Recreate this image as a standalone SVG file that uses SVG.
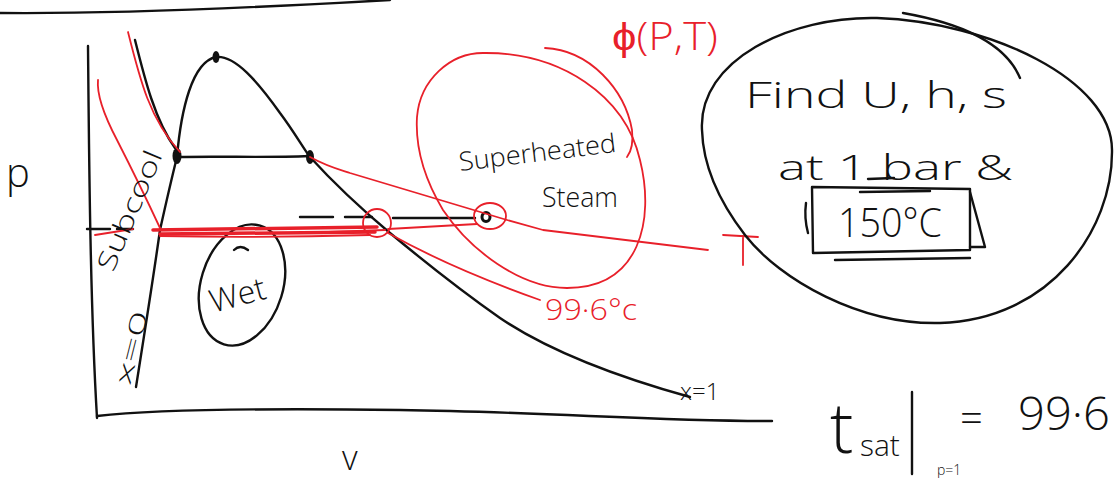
<svg xmlns="http://www.w3.org/2000/svg" width="1115" height="486" viewBox="0 0 1115 486">
<style>
.k{fill:none;stroke:#111;stroke-width:2.4;stroke-linecap:round;stroke-linejoin:round}
.r{fill:none;stroke:#e8202a;stroke-width:1.8;stroke-linecap:round;stroke-linejoin:round}
.rt{fill:none;stroke:#e8202a;stroke-width:3.5;stroke-linecap:round}
.tk{font-family:"Open Sans","Liberation Sans",Arial,sans-serif;font-weight:300;fill:#111}
.tr{font-family:"Open Sans","Liberation Sans",Arial,sans-serif;font-weight:300;fill:#e8202a}
</style>
<rect width="1115" height="486" fill="#fff"/>
<g id="sketch">
<path class="k" d="M0,13 C100,14 250,8 390,0"/>
<path class="k" d="M88,46 C89,150 90,300 97,418"/>
<path class="k" d="M97,416 C150,410 250,408 400,410 S650,421 772,421"/>
<path class="k" d="M136,387 C145,330 153,280 160,230 Q170,185 177,157 C181,110 192,62 216,57 C235,55 258,82 280,113 C295,133 303,148 310,157 C340,190 365,212 390,233 C420,258 460,290 500,318 C540,345 600,372 690,397"/>
<path class="k" d="M135,40 C145,80 155,120 175,148"/>
<path class="k" d="M177,157 C230,156 260,158 310,156"/>
<ellipse cx="216" cy="57" rx="3.5" ry="6" fill="#111"/>
<ellipse cx="177" cy="156" rx="4.5" ry="8" fill="#111"/>
<ellipse cx="310" cy="157" rx="4" ry="7" fill="#111"/>
<path class="k" d="M87,229 L110,229 M117,229 L133,229 M300,217 L333,217 M345,217 L372,217 M393,218 L475,218"/>
<ellipse class="k" cx="242" cy="285" rx="41" ry="62" transform="rotate(17 242 285)"/>
<path class="k" d="M234,250 Q240,244 248,250"/>
<ellipse cx="486" cy="217" rx="4" ry="4.5" fill="none" stroke="#111" stroke-width="3"/>
</g>
<g id="red">
<path class="r" d="M128,32 C140,80 150,120 180,152"/>
<path class="r" d="M98,80 Q96,100 117,140 Q140,185 160,228"/>
<path class="r" d="M95,235 L133,229"/>
<path class="rt" d="M153,230 L377,227 M160,234 L375,232"/>
<path class="r" d="M160,236 Q260,238 370,235 M300,233 L385,230"/>
<circle class="r" cx="377" cy="223" r="14"/>
<path class="r" d="M310,157 C330,168 345,171 350,173 L507,220 L543,230 L708,250"/>
<path class="r" d="M388,233 Q450,268 540,300"/>
<path class="r" d="M388,229 L477,224"/>
<ellipse class="r" cx="490" cy="216" rx="16" ry="13"/>
<path class="r" d="M417,117 C420,80 450,53 483,53 C560,52 625,95 640,160 C655,220 640,288 567,288 C520,288 470,250 443,210 C425,180 415,150 417,117 Z"/>
<path class="r" d="M545,48 C590,50 625,90 632,130 Q634,148 627,157"/>
<path class="r" d="M723,235 L758,237 M743,236 L743,265"/>
</g>
<g id="info">
<path class="k" d="M702,130 C698,60 790,16 877,18 C990,22 1112,80 1112,150 C1113,230 1050,320 940,323 C860,325 780,280 745,235 C718,200 703,165 702,130 Z"/>
<path class="k" d="M903,13 Q1000,30 1020,78"/>
<path class="k" d="M812,187 L970,189 L970,250 L813,253 Z"/>
<path class="k" d="M970,192 L985,247 L970,247"/>
<path class="k" d="M806,203 Q804,218 808,233"/>
<path class="k" d="M860,192 L930,191" stroke-width="4"/>
<path class="k" d="M835,260 L970,258"/>
<path class="k" d="M868,179 L894,178"/>
<path class="k" d="M912,392 L912,474"/>
</g>
<g id="labels">
<text class="tk" x="6" y="187" font-size="40">p</text>
<text class="tk" x="342" y="470" font-size="34">v</text>
<text class="tk" font-size="26" transform="translate(113,273) rotate(-67)" textLength="128" lengthAdjust="spacingAndGlyphs">Subcool</text>
<text class="tk" font-size="22" transform="translate(130,386) rotate(-76)" textLength="75" lengthAdjust="spacingAndGlyphs">x=0</text>
<text class="tk" font-size="32" transform="translate(213,313) rotate(-15)">Wet</text>
<text class="tk" font-size="26" transform="translate(460,171) rotate(-7)" textLength="158" lengthAdjust="spacingAndGlyphs">Superheated</text>
<text class="tk" x="542" y="207" font-size="28" textLength="76" lengthAdjust="spacingAndGlyphs">Steam</text>
<text class="tr" x="612" y="50" font-size="38" textLength="106" lengthAdjust="spacingAndGlyphs">ϕ(P,T)</text>
<text class="tr" x="545" y="320" font-size="30" textLength="92" lengthAdjust="spacingAndGlyphs">99·6°c</text>
<text class="tk" x="680" y="400" font-size="24">x=1</text>
<text class="tk" x="745" y="108" font-size="36" textLength="262" lengthAdjust="spacingAndGlyphs">Find U, h, s</text>
<text class="tk" x="778" y="180" font-size="34" textLength="235" lengthAdjust="spacingAndGlyphs">at 1 bar &amp;</text>
<text class="tk" x="838" y="237" font-size="40" textLength="104" lengthAdjust="spacingAndGlyphs">150°C</text>
<text class="tk" x="830" y="453" font-size="70">t</text>
<text class="tk" x="860" y="456" font-size="30">sat</text>
<text class="tk" x="960" y="432" font-size="40">=</text>
<text class="tk" x="1018" y="430" font-size="46" textLength="92" lengthAdjust="spacingAndGlyphs">99·6</text>
<text class="tk" x="937" y="475" font-size="14">p=1</text>
</g>
</svg>
